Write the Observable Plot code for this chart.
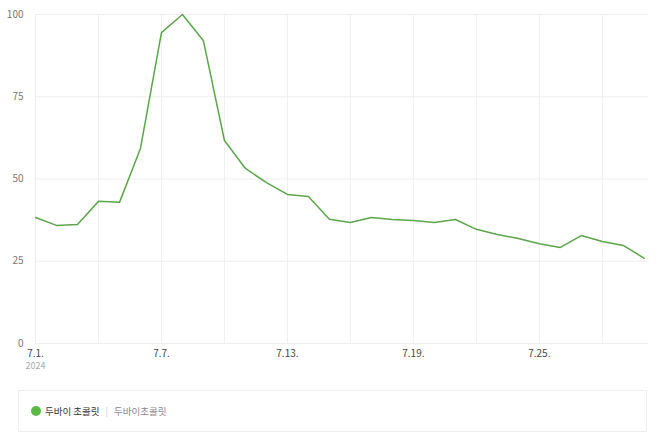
<!DOCTYPE html>
<html>
<head>
<meta charset="utf-8">
<script src="https://cdn.jsdelivr.net/npm/d3@7"></script>
<script src="https://cdn.jsdelivr.net/npm/@observablehq/plot@0.6"></script>
<style>
  html, body { margin: 0; padding: 0; background: #fff; }
  body { width: 658px; height: 438px; overflow: hidden; font-family: "Noto Sans CJK KR", "Noto Sans", sans-serif; }
  #chart svg { display: block; }
  .legend {
    position: absolute; left: 18px; top: 390px; width: 629px; height: 42px;
    border: 1px solid #eeeeee; box-sizing: border-box;
    display: flex; align-items: center; font-size: 9.5px;
  }
  .legend .dot { width: 10px; height: 10px; border-radius: 50%; background: #5cb947; margin-left: 12px; margin-right: 4px; }
  .legend .name { color: #333; }
  .legend .sep { color: #ccc; margin: 0 6px 0 6px; font-size: 9px; }
  .legend .kw { color: #888; }
</style>
</head>
<body>
<div id="chart"></div>
<div class="legend"><span class="dot"></span><span class="name">두바이 초콜릿</span><span class="sep">|</span><span class="kw">두바이초콜릿</span></div>
<script>
const days = [1,2,3,4,5,6,7,8,9,10,11,12,13,14,15,16,17,18,19,20,21,22,23,24,25,26,27,28,29,30];
const values = [38.3,35.9,36.2,43.2,42.9,59.3,94.5,100,92,61.7,53.2,48.9,45.3,44.7,37.8,36.8,38.3,37.7,37.4,36.8,37.7,34.7,33.1,31.9,30.3,29.2,32.8,31,29.8,25.9];
const yTicks = [0,25,50,75,100];
const xLabelDays = [1,7,13,19,25];
const xGridDays = [1,4,7,10,13,16,19,22,25,28];
const yearLabel = "2024";
const monthLabel = 7;

const data = days.map((d, i) => ({day: d, value: values[i]}));

const chart = Plot.plot({
  width: 658,
  height: 375,
  marginTop: 14,
  marginBottom: 32,
  marginLeft: 35,
  marginRight: 10,
  style: {fontFamily: '"Noto Sans CJK KR", "Noto Sans", sans-serif', fontSize: "10px", background: "#fff"},
  x: {domain: [1, 30.2]},
  y: {domain: [0, 100]},
  marks: [
    Plot.gridY(yTicks, {stroke: "#eeeeee", strokeOpacity: 1}),
    Plot.gridX(xGridDays, {stroke: "#eeeeee", strokeOpacity: 1}),
    Plot.axisY(yTicks, {tickSize: 0, tickPadding: 12, label: null, fill: "#777", fontSize: 10}),
    Plot.axisX(xLabelDays, {tickSize: 0, tickPadding: 6, label: null, fill: "#444", fontSize: 10, tickFormat: d => `${monthLabel}.${d}.`}),
    Plot.text([xLabelDays[0]], {x: d => d, y: () => 0, text: () => yearLabel, dy: 23, fill: "#aaa", fontSize: 9}),
    Plot.line(data, {x: "day", y: "value", stroke: "#5ba64a", strokeWidth: 1.5})
  ]
});
document.getElementById("chart").appendChild(chart);
</script>
</body>
</html>
